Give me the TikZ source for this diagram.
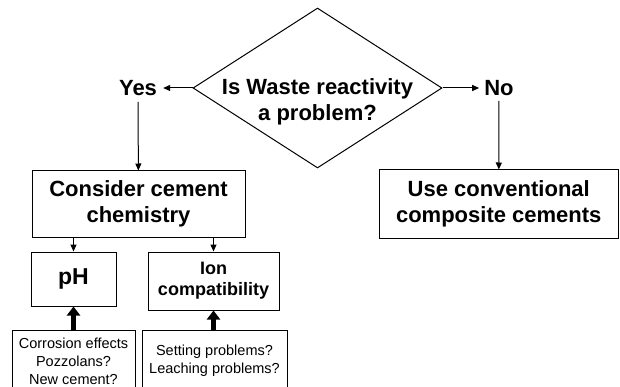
\documentclass[tikz,border=0pt]{standalone}
\usepackage{fontspec}
\setmainfont{Liberation Sans}
\usetikzlibrary{arrows.meta,shapes.geometric}

\begin{document}
\begin{tikzpicture}[x=1pt,y=-1pt,
    box/.style={rectangle,draw=black,line width=1pt,align=center,inner sep=0pt},
    big/.style={font=\bfseries\fontsize{22}{25.5}\selectfont},
    mid/.style={font=\bfseries\fontsize{18}{21}\selectfont},
    note/.style={rectangle,draw=black,line width=1pt,align=center,anchor=north,
      inner xsep=0pt,font=\fontsize{14.5}{18}\selectfont},
    a/.style={-{Triangle[length=7pt,width=6pt]},line width=1pt},
    up/.style={-{Triangle[length=9pt,width=13pt]},line width=4.5pt}]
    \useasboundingbox (0,0) rectangle (620,387);
    \node[diamond,draw,line width=1pt,minimum width=249pt,minimum height=160pt,inner sep=0pt] (waste) at (317.5,88) {};
    \node[big,align=center,inner sep=0pt] (wastetxt) at (317.5,102) {Is Waste reactivity\\a problem?};
    \node[big,inner sep=6pt] (yes) at (138,88) {Yes};
    \node[big,inner sep=5pt] (no) at (499,88) {No};
    \node[box,big,minimum width=213pt,minimum height=66pt] (consider) at (138.5,204) {Consider cement\\chemistry};
    \node[box,big,minimum width=239.5pt,minimum height=68pt] (use) at (498.75,204) {Use conventional\\composite cements};
    \node[box,font=\bfseries\fontsize{23}{25}\selectfont,minimum width=85pt,minimum height=54pt] (ph) at (73.5,279) {pH};
    \node[box,mid,minimum width=131pt,minimum height=58pt] (ion) at (213.5,281) {Ion\\compatibility};
    \node[note,minimum width=123pt,inner ysep=7pt] (phnote) at (73.5,330) {Corrosion effects\\Pozzolans?\\New cement?};
    \node[note,minimum width=145pt,inner ysep=14.4pt] (ionnote) at (214.5,330) {Setting problems?\\Leaching problems?};
    \draw[a](waste.west)--(yes); \draw[a](waste.east)--(no);
    \draw[a](yes)--(consider); \draw[a](no)--(use);
    \draw[a](ph.north |- consider.south)--(ph.north); \draw[a](ion.north |- consider.south)--(ion.north);
    \draw[up](phnote.north)--(ph.south); \draw[up](ion.south |- ionnote.north)--(ion.south);
  \end{tikzpicture}
\end{document}
